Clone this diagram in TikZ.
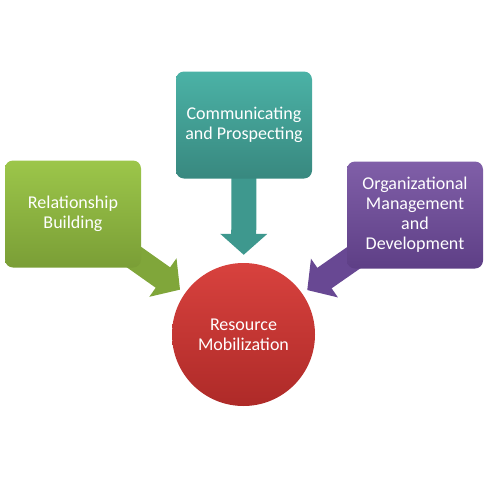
\documentclass[tikz,border=0pt]{standalone}
\usepackage{fontspec}
\setmainfont{Carlito}
\usetikzlibrary{
  arrows.meta,
  backgrounds
}
\definecolor{greentop}{RGB}{156,198,74}
\definecolor{greenbot}{RGB}{122,158,54}
\definecolor{greenarr}{RGB}{128,166,58}
\definecolor{tealtop}{RGB}{75,178,166}
\definecolor{tealbot}{RGB}{56,136,127}
\definecolor{tealarr}{RGB}{62,152,142}
\definecolor{purptop}{RGB}{128,95,168}
\definecolor{purpbot}{RGB}{94,63,134}
\definecolor{purparr}{RGB}{104,72,147}
\definecolor{redtop}{RGB}{216,66,62}
\definecolor{redbot}{RGB}{174,42,40}

\begin{document}
\begin{tikzpicture}[
    x=1pt, y=-1pt,
  every node/.style = {align=center, text=white,
    font=\fontsize{18}{20}\selectfont},
  box/.style = {shape=rectangle, rounded corners=8pt,
    minimum width=136pt, minimum height=107pt},
  fatarrow/.style = {line width=25pt,
    -{Triangle[width=46pt,length=21pt]}}]
  \useasboundingbox (0,0) rectangle (488,488);
  \node[box, top color=greentop, bottom color=greenbot]
    (rel) at (73,214) {Relationship\\Building};
  \node[box, top color=tealtop, bottom color=tealbot]
    (com) at (244,125) {Communicating\\and Prospecting};
  \node[box, top color=purptop, bottom color=purpbot]
    (org) at (415,215) {Organizational\\Management\\and\\Development};
  \node[shape=circle, minimum size=143pt,
        top color=redtop, bottom color=redbot]
    (res) at (243.5,334.5) {Resource\\Mobilization};
  % arrows behind the boxes
  \begin{scope}[on background layer]
    \draw[fatarrow, greenarr, shorten >=6pt] (rel.center) -- (res);
    \draw[fatarrow, tealarr, shorten >=8pt] (com.center) -- (res);
    \draw[fatarrow, purparr, shorten >=6pt] (org.center) -- (res);
  \end{scope}
\end{tikzpicture}
\end{document}
